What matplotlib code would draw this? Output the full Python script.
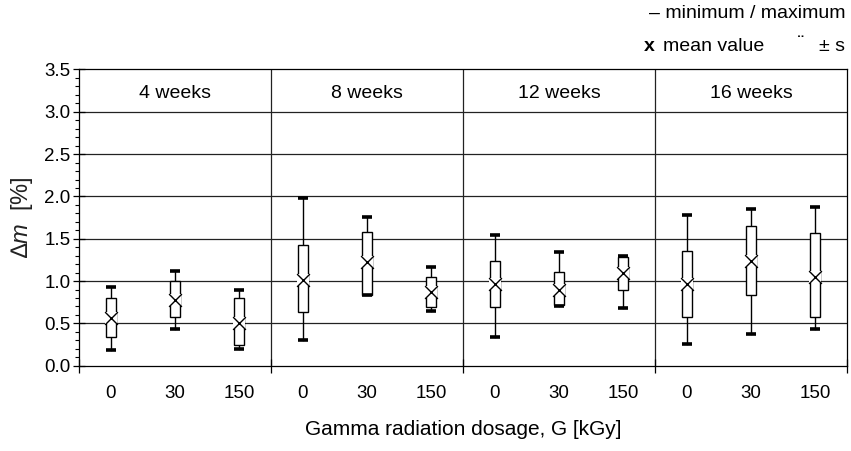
import matplotlib.pyplot as plt
import numpy as np
from matplotlib.ticker import MultipleLocator

plt.rcParams['font.family'] = ['Liberation Sans', 'DejaVu Sans']
plt.rcParams['mathtext.fontset'] = 'custom'
plt.rcParams['mathtext.rm'] = 'Liberation Sans'
plt.rcParams['mathtext.it'] = 'Liberation Sans:italic'

weeks = ['4 weeks', '8 weeks', '12 weeks', '16 weeks']
doses = ['0', '30', '150']

# values per box, order: 4w(0,30,150), 8w, 12w, 16w
v_max = [0.93, 1.12, 0.90, 1.98, 1.76, 1.17, 1.55, 1.34, 1.30, 1.78, 1.85, 1.88]
s_up = [0.80, 1.00, 0.80, 1.43, 1.58, 1.05, 1.24, 1.11, 1.29, 1.36, 1.65, 1.57]
v_mean = [0.56, 0.78, 0.50, 1.01, 1.22, 0.87, 0.96, 0.89, 1.09, 0.96, 1.24, 1.05]
s_low = [0.34, 0.58, 0.24, 0.63, 0.84, 0.69, 0.69, 0.72, 0.89, 0.58, 0.83, 0.58]
v_min = [0.19, 0.44, 0.20, 0.30, 0.84, 0.65, 0.335, 0.71, 0.68, 0.26, 0.38, 0.43]

fig = plt.figure(figsize=(8.51, 4.51), dpi=100)
ax = fig.add_axes([0.0928, 0.189, 0.9025, 0.657])

x = np.arange(len(v_mean)) + 0.5
w = 0.17

# gridlines and panel dividers
for yy in [0.5, 1.0, 1.5, 2.0, 2.5, 3.0]:
    ax.axhline(yy, color='#222222', lw=0.9, zorder=1)
for xx in [3, 6, 9]:
    ax.axvline(xx, color='#222222', lw=0.9, zorder=1)

for i in range(len(x)):
    # whiskers
    ax.plot([x[i], x[i]], [s_up[i], v_max[i]], color='black', lw=1.0, zorder=2)
    ax.plot([x[i], x[i]], [v_min[i], s_low[i]], color='black', lw=1.0, zorder=2)
    # +/- s box
    ax.bar(x[i], s_up[i] - s_low[i], bottom=s_low[i], width=w,
           facecolor='white', edgecolor='black', lw=1.0, zorder=3)
    # caps
    ax.plot([x[i] - w / 2, x[i] + w / 2], [v_max[i], v_max[i]],
            color='black', lw=2.6, solid_capstyle='butt', zorder=4)
    ax.plot([x[i] - w / 2, x[i] + w / 2], [v_min[i], v_min[i]],
            color='black', lw=2.6, solid_capstyle='butt', zorder=4)

# mean markers
ax.scatter(x, v_mean, marker='s', s=70, color='white', zorder=4, lw=0)
ax.scatter(x, v_mean, marker='x', s=85, color='black', lw=1.0, zorder=5)

for k, lab in enumerate(weeks):
    ax.text(3 * k + 1.5, 3.22, lab, ha='center', va='center', fontsize=14)

ax.set_xlim(0, 12)
ax.set_ylim(0, 3.5)
ax.set_xticks([0, 3, 6, 9, 12])
ax.set_xticklabels([])
ax.set_xticks(x, minor=True)
ax.set_xticklabels(doses * 4, minor=True, fontsize=13.5)
ax.tick_params(axis='x', which='minor', length=0, pad=14)
ax.tick_params(axis='x', which='major', direction='inout', length=10, width=0.9)
ax.yaxis.set_major_locator(MultipleLocator(0.5))
ax.yaxis.set_minor_locator(MultipleLocator(0.1))
ax.yaxis.set_major_formatter(plt.FormatStrFormatter('%.1f'))
ax.tick_params(axis='y', which='major', direction='inout', length=8, width=0.9,
               labelsize=13.5, pad=2)
ax.tick_params(axis='y', which='minor', direction='out', length=3, width=0.8)
for sp in ax.spines.values():
    sp.set_linewidth(0.9)

ax.set_ylabel('\u2206$m$  [%]', fontsize=17, color='#222222')
ax.yaxis.set_label_coords(-0.057, 0.5)
ax.set_xlabel('Gamma radiation dosage, G [kGy]', fontsize=15, labelpad=13)

fig.text(0.993, 0.971, '\u2013 minimum / maximum', ha='right', va='center', fontsize=14)
fig.text(0.757, 0.896, 'x', ha='left', va='center', fontsize=14, fontweight='bold')
fig.text(0.779, 0.896, 'mean value', ha='left', va='center', fontsize=14)
fig.text(0.937, 0.905, '\u00a8', ha='left', va='center', fontsize=12, fontweight='bold')
fig.text(0.993, 0.896, '\u00b1 s', ha='right', va='center', fontsize=14)

fig.savefig('out.png', dpi=100)
